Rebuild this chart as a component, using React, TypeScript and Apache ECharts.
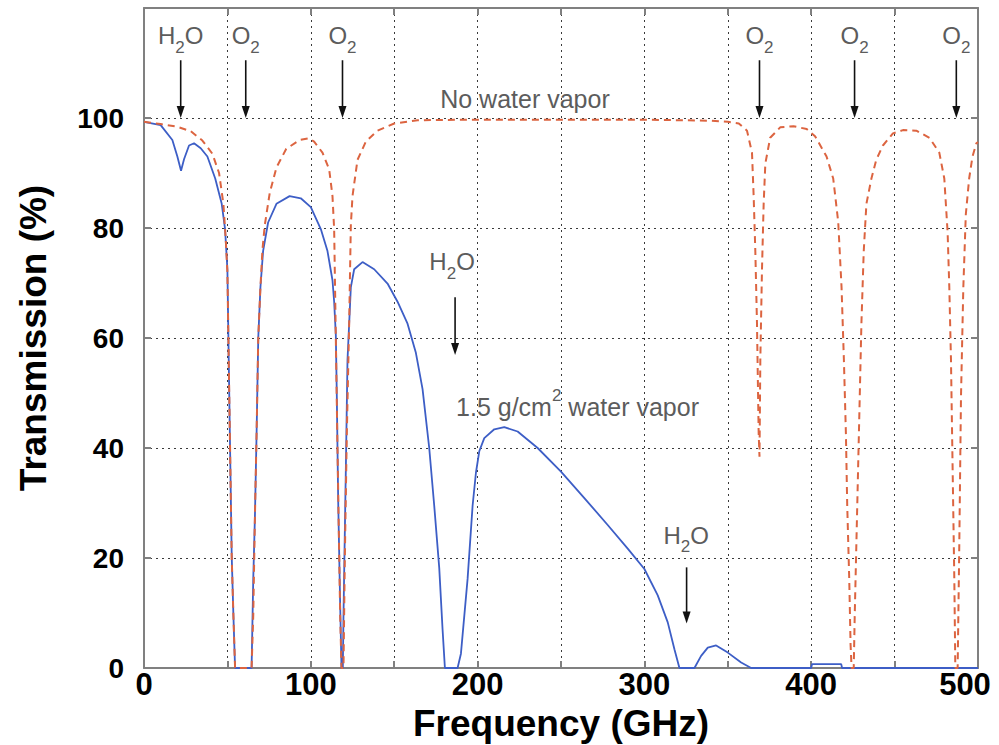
import React, { useEffect, useRef } from "react";
import * as echarts from "echarts";

// ---- Data ----
// Dashed curve: "No water vapor"
const dryFreq = [
  0, 10, 20, 28, 35, 41, 45, 47.6, 49, 50, 50.6, 51.6, 52.6, 53.6, 54.6, 64.5, 65.5, 66.5, 67.5, 68.5,
  69.8, 71, 72.4, 75.4, 79.4, 85.3, 93.3, 99, 102, 107, 111, 113, 114, 115, 116, 117.6, 118.4, 119.6,
  120.4, 121.6, 123, 124, 125, 128, 133, 140, 150, 164, 200, 300, 340, 350, 356.6, 361.5, 364.5, 365.5,
  366.5, 367.5, 368.5, 369, 369.5, 370.5, 371.5, 372.5, 375.4, 381.4, 389.4, 397.3, 402.3, 409.2, 413.2,
  416.2, 418.2, 419.6, 420.8, 421.6, 422.8, 423.6, 424.2, 425.5, 426.1, 427.1, 428.1, 429.1, 430.1,
  431.5, 433.1, 436.1, 439, 443, 449, 455, 463, 470.9, 476.8, 479.8, 481.8, 482.8, 483.8, 484.8, 485.8,
  486.4, 487.8, 488.8, 489.8, 491.2, 492.7, 494.7, 496.7, 499, 500,
];
const dryTrans = [
  99.3, 98.9, 98.4, 97.6, 95.9, 93.5, 90, 84.4, 78, 72, 60, 40, 20, 9.6, 0, 0, 9.6, 27.5, 42.7, 60,
  69.2, 76, 80.5, 86.4, 91, 94.4, 96, 96.3, 95.7, 93.7, 90.7, 85.8, 79.8, 60, 40, 9.6, 0, 0,
  20, 42.7, 62.6, 80.5, 85.8, 92.4, 95.7, 97.7, 99, 99.6, 99.7, 99.7, 99.5, 99.3, 99, 97.7, 93.7, 85.8,
  75.8, 62.6, 42.7, 38.4, 56, 72.5, 84.4, 91.7, 96.4, 98.3, 98.5, 98, 96.7, 93, 89,
  81.1, 69.2, 56, 42.7, 29.5, 16.2, 4.3, 0, 0, 9.6, 22.8, 36, 49.3, 62.6,
  75.8, 84.4, 89, 92.4, 95, 97.2, 97.8, 97.7, 96.4, 93.7, 89, 79.1, 69.2, 56, 36, 16.2,
  0, 0, 22.8, 49.3, 69.2, 82.5, 89, 93, 95.4, 95.6,
];

// Solid curve: "1.5 g/cm² water vapor"
const wetFreq = [
  0, 10, 17, 20, 22.2, 24, 27, 30, 34, 38, 42.7, 46.6, 48.6, 50, 50.6, 51.6, 52.6, 53.6, 54.6, 64.5,
  65.5, 66.5, 67.5, 68.5, 69.8, 71.4, 74.4, 79.4, 87.3, 94, 100, 106, 110, 113, 114, 115, 115.6, 116.4,
  117.6, 118.4, 119.2, 119.6, 121, 122, 123, 124, 126, 131, 138, 146, 152, 158, 163, 167, 171, 174,
  177, 179, 180.4, 188, 190, 194, 197, 199, 201, 204, 210, 216, 224, 236, 250, 264, 278, 290, 300,
  308, 314, 318, 321, 330, 334, 338, 343, 350, 358, 364, 400, 400.5, 418, 418.5, 500,
];
const wetTrans = [
  99.3, 98.7, 96, 93, 90.4, 92.5, 95, 95.4, 94.5, 93, 89, 84.4, 79.8, 72.5, 60, 40, 20.2, 9.6, 0, 0,
  16.2, 27.5, 42.7, 60, 69.2, 75.8, 81, 84.4, 85.8, 85.4, 83.8, 79.8, 75.8, 70.5, 66.6, 60.6, 49.3, 30.8,
  11.6, 0, 0, 9.6, 36, 56, 62.6, 69.2, 72.5, 73.8, 72.5, 69.9, 66.6, 62.6, 57.3, 50.7, 40, 29.5,
  18.2, 7, 0, 0, 2.6, 16.2, 29.5, 35.5, 39.4, 41.8, 43.4, 43.8, 43, 40, 35.7, 30.9, 26, 21.7, 18,
  13.2, 8.3, 3.4, 0, 0, 2.2, 3.7, 4.1, 2.8, 1, 0, 0, 0.7, 0.7, 0, 0,
];

// Absorption-line annotations
const annotMolecule = ["H2O", "O2", "O2", "O2", "O2", "O2", "H2O", "H2O"];
const annotFreq = [22, 61, 119, 369, 426, 487, 186.5, 325.3];
const annotLabelFreq = [22, 61, 119, 369, 426, 487, 184.7, 325];
const annotLabelTrans = [115, 115, 115, 115, 115, 115, 73.9, 24.1];
const annotArrowTop = [110.5, 110.5, 110.5, 110.5, 110.5, 110.5, 67.4, 18.3];
const annotArrowTip = [100, 100, 100, 100, 100, 100, 56.9, 8.1];

const curveNotes = ["No water vapor", "1.5 g/cm2 water vapor"];
const curveNoteFreq = [228.4, 259.9];
const curveNoteTrans = [103.5, 47.5];

const xTickLabels = ["0", "100", "200", "300", "400", "500"];
const yTickLabels = ["0", "20", "40", "60", "80", "100"];

const FONT = "'Liberation Sans', Arial, Helvetica, sans-serif";
const GRAY = "#5c5c5c";
const AXIS_GRAY = "#808080";

export default function App() {
  const ref = useRef<HTMLDivElement>(null);

  useEffect(() => {
    if (!ref.current) return;
    const chart = echarts.init(ref.current, null, { renderer: "svg" });

    const axisLine = { show: true, onZero: false, lineStyle: { color: AXIS_GRAY, width: 2 } };
    const axisTick = { show: true, inside: true, length: 7, lineStyle: { color: AXIS_GRAY, width: 2 } };
    const splitLine = { show: true, lineStyle: { type: [2, 4], color: "#3a3a3a", width: 1 } };
    const tickFont = { fontSize: 31, fontWeight: "bold", color: "#000", fontFamily: FONT };

    const option: any = {
      animation: false,
      backgroundColor: "#ffffff",
      grid: {
        left: 144,
        right: 21,
        top: 8,
        bottom: 77,
        containLabel: false,
        outerBoundsMode: "none",
      },
      xAxis: [
        {
          type: "value",
          min: 0,
          max: 500,
          interval: 50,
          position: "bottom",
          axisLine,
          axisTick,
          splitLine,
          axisLabel: {
            formatter: (v: number) => {
              const s = String(v);
              if (!xTickLabels.includes(s)) return "";
              return v === 500 ? "{e|" + s + "}" : s;
            },
            ...tickFont,
            margin: 1,
            rich: { e: { ...tickFont, padding: [0, 26, 0, 0] } },
          },
          name: "Frequency (GHz)",
          nameLocation: "middle",
          nameGap: 35,
          nameTextStyle: { fontSize: 37, fontWeight: "bold", color: "#000", fontFamily: FONT },
        },
        {
          type: "value",
          min: 0,
          max: 500,
          interval: 50,
          position: "top",
          axisLine,
          axisTick,
          splitLine: { show: false },
          axisLabel: { show: false },
        },
      ],
      yAxis: [
        {
          type: "value",
          min: 0,
          max: 120,
          interval: 20,
          position: "left",
          axisLine,
          axisTick,
          splitLine,
          axisLabel: {
            formatter: (v: number) => (yTickLabels.includes(String(v)) ? String(v) : ""),
            fontSize: 28,
            fontWeight: "bold",
            color: "#000",
            fontFamily: FONT,
            margin: 20,
          },
          name: "Transmission (%)",
          nameLocation: "middle",
          nameGap: 92,
          nameTextStyle: { fontSize: 37, fontWeight: "bold", color: "#000", fontFamily: FONT },
        },
        {
          type: "value",
          min: 0,
          max: 120,
          interval: 20,
          position: "right",
          axisLine,
          axisTick,
          splitLine: { show: false },
          axisLabel: { show: false },
        },
      ],
      series: [
        {
          name: "1.5 g/cm² water vapor",
          type: "line",
          xAxisIndex: 0,
          yAxisIndex: 0,
          showSymbol: false,
          symbol: "none",
          data: wetFreq.map((f, i) => [f, wetTrans[i]]),
          lineStyle: { color: "#3d5ec6", width: 1.8, type: "solid" },
          z: 3,
        },
        {
          name: "No water vapor",
          type: "line",
          xAxisIndex: 0,
          yAxisIndex: 0,
          showSymbol: false,
          symbol: "none",
          data: dryFreq.map((f, i) => [f, dryTrans[i]]),
          lineStyle: { color: "#dc6440", width: 2, type: [7, 5] },
          z: 4,
        },
      ],
    };

    chart.setOption(option);

    const px = (f: number, t: number): number[] =>
      chart.convertToPixel({ xAxisIndex: 0, yAxisIndex: 0 } as any, [f, t]) as number[];

    const rich = {
      m: { fontSize: 24, lineHeight: 40, verticalAlign: "middle", fill: GRAY, fontFamily: FONT },
      s: { fontSize: 17, lineHeight: 18, verticalAlign: "bottom", fill: GRAY, fontFamily: FONT },
    };

    const richLabel = (mol: string) =>
      mol === "H2O" ? "{m|H}{s|2}{m|O}" : "{m|O}{s|2}";

    const graphics: any[] = [];
    annotMolecule.forEach((mol, i) => {
      const [lx, ly] = px(annotLabelFreq[i], annotLabelTrans[i]);
      graphics.push({
        type: "text",
        x: lx,
        y: ly,
        z: 10,
        style: {
          text: richLabel(mol),
          rich,
          align: "center",
          verticalAlign: "middle",
          textAlign: "center",
          textVerticalAlign: "middle",
        },
      });
      const [ax, ay0] = px(annotFreq[i], annotArrowTop[i]);
      const [, ay1] = px(annotFreq[i], annotArrowTip[i]);
      const headLen = 12;
      const headW = 4;
      graphics.push({
        type: "line",
        z: 10,
        shape: { x1: ax, y1: ay0, x2: ax, y2: ay1 - headLen + 2 },
        style: { stroke: "#111", lineWidth: 1.6 },
      });
      graphics.push({
        type: "polygon",
        z: 10,
        shape: {
          points: [
            [ax - headW, ay1 - headLen],
            [ax + headW, ay1 - headLen],
            [ax, ay1],
          ],
        },
        style: { fill: "#111" },
      });
    });

    curveNotes.forEach((note, i) => {
      const [nx, ny] = px(curveNoteFreq[i], curveNoteTrans[i]);
      const text =
        note === "1.5 g/cm2 water vapor" ? "{n|1.5 g/cm}{p|2}{n| water vapor}" : "{n|" + note + "}";
      graphics.push({
        type: "text",
        x: nx,
        y: ny,
        z: 10,
        style: {
          text,
          rich: {
            n: { fontSize: 25, lineHeight: 40, verticalAlign: "middle", fill: GRAY, fontFamily: FONT },
            p: { fontSize: 17, lineHeight: 18, verticalAlign: "top", fill: GRAY, fontFamily: FONT },
          },
          align: "center",
          verticalAlign: "middle",
          textAlign: "center",
          textVerticalAlign: "middle",
        },
      });
    });

    chart.setOption({ graphic: { elements: graphics } });

    return () => chart.dispose();
  }, []);

  return (
    <div
      ref={ref}
      style={{ position: "fixed", left: 0, top: 0, width: 999, height: 745, background: "#fff" }}
    />
  );
}
